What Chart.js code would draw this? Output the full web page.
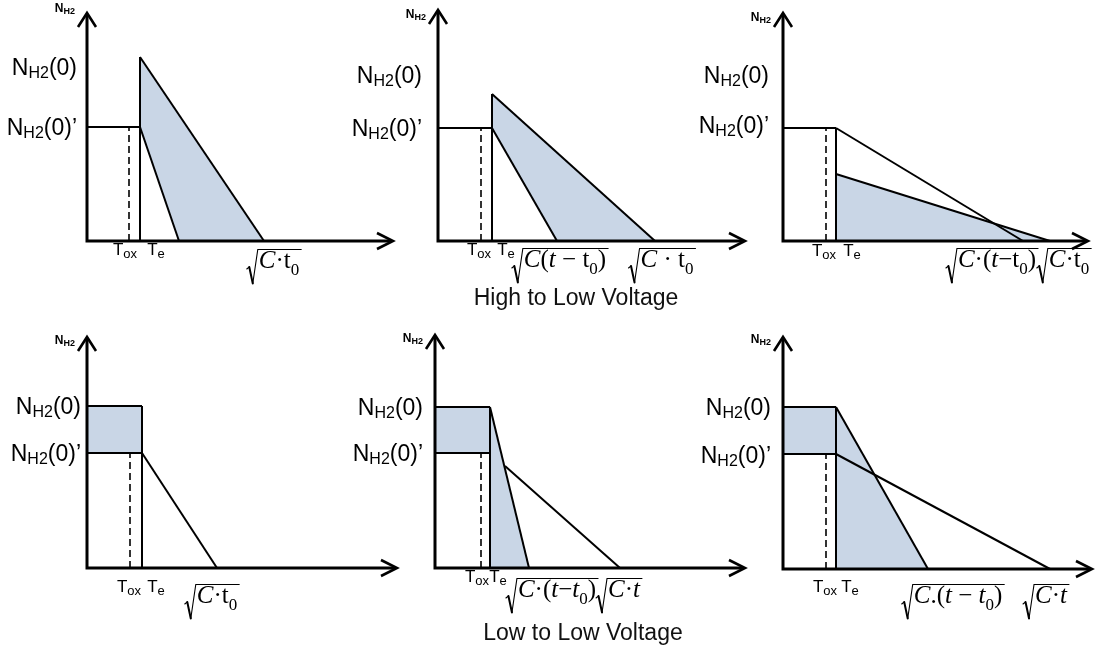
<!DOCTYPE html>
<html>
<head>
<meta charset="utf-8">
<title>N_H2 profiles</title>
<script src="https://cdn.jsdelivr.net/npm/chart.js@4.4.1/dist/chart.umd.min.js"></script>
<style>
  html, body { margin: 0; padding: 0; background: #fff; }
  body { width: 1096px; height: 649px; position: relative; overflow: hidden; font-family: "Liberation Sans", Arial, sans-serif; }
  .panel { position: absolute; }
  .caption { position: absolute; font-size: 23px; color: #111; white-space: nowrap; transform: translate(-50%, -50%); }
</style>
</head>
<body>
<div id="panels"></div>
<div class="caption" style="left:576px; top:297px;">High to Low Voltage</div>
<div class="caption" style="left:583px; top:632px;">Low to Low Voltage</div>

<script>
// ---- labels ----
const axisTitle = 'N_{H2}';
const yTickText = ['N_{H2}(0)', 'N_{H2}(0)’'];
const tox = 'T_{ox}';
const te = 'T_{e}';
// radicand tokens: [text, style]  i = italic, r = roman, s = subscript, si = italic subscript
const rootCt0 = [['C', 'i'], ['·', 'r'], ['t', 'r'], ['0', 's']];
const rootCt0Wide = [['C', 'i'], [' · ', 'r'], ['t', 'r'], ['0', 's']];
const rootCtt0 = [['C', 'i'], ['(', 'r'], ['t', 'i'], [' − ', 'r'], ['t', 'r'], ['0', 's'], [')', 'r']];
const rootCdotTt0 = [['C', 'i'], ['·(', 'r'], ['t', 'i'], ['−', 'r'], ['t', 'r'], ['0', 's'], [')', 'r']];
const rootCdotTt0i = [['C', 'i'], ['·(', 'r'], ['t', 'i'], ['−', 'r'], ['t', 'i'], ['0', 's'], [')', 'r']];
const rootCperTt0 = [['C', 'i'], ['.(', 'r'], ['t', 'i'], [' − ', 'r'], ['t', 'i'], ['0', 's'], [')', 'r']];
const rootCt = [['C', 'i'], ['·', 'r'], ['t', 'i']];

// ---- data: x = distance from the N axis, y = height above the depth axis ----
// panel 1 : high -> low, short time
const p1Shade = [[53, 184], [177, 0], [92, 0], [53, 114]];
const p1Lines = [[[0, 114], [53, 114]], [[53, 0], [53, 184]], [[53, 114], [92, 0]], [[53, 184], [177, 0]]];
const p1Dash = [[42, 0], [42, 114]];
const p1YTicks = [174, 114];
const p1XTicks = [38, 69, 187];

// panel 2
const p2Shade = [[54, 147], [217, 0], [119, 0], [54, 113]];
const p2Lines = [[[0, 113], [54, 113]], [[54, 0], [54, 147]], [[54, 113], [119, 0]], [[54, 147], [217, 0]]];
const p2Dash = [[43, 0], [43, 113]];
const p2YTicks = [166, 113];
const p2XTicks = [41, 68, 122, 224];

// panel 3
const p3Shade = [[53, 67], [267, 0], [53, 0]];
const p3Lines = [[[0, 113], [53, 113]], [[53, 0], [53, 113]], [[53, 113], [240, 0]], [[53, 67], [267, 0]]];
const p3Dash = [[43, 0], [43, 113]];
const p3YTicks = [166, 116];
const p3XTicks = [41, 69, 209, 281];

// panel 4 : low -> low
const p4Shade = [[0, 162], [55, 162], [55, 115], [0, 115]];
const p4Lines = [[[0, 162], [55, 162]], [[0, 115], [55, 115]], [[55, 0], [55, 162]], [[55, 115], [130, 0]]];
const p4Dash = [[43, 0], [43, 115]];
const p4YTicks = [162, 115];
const p4XTicks = [42, 69, 125];

// panel 5
const p5Shade = [[0, 161], [55, 161], [94, 0], [55, 0], [55, 115], [0, 115]];
const p5Lines = [[[0, 161], [55, 161]], [[0, 115], [55, 115]], [[55, 0], [55, 161]], [[55, 161], [94, 0]], [[70, 102], [185, 0]]];
const p5Dash = [[46, 0], [46, 115]];
const p5YTicks = [161, 115];
const p5XTicks = [42, 63, 117, 184];

// panel 6
const p6Shade = [[0, 162], [53, 162], [145, 0], [53, 0], [53, 115], [0, 115]];
const p6Lines = [[[0, 162], [53, 162]], [[0, 115], [53, 115]], [[53, 0], [53, 162]], [[53, 162], [145, 0]], [[53, 115], [267, 0]]];
const p6Dash = [[43, 0], [43, 115]];
const p6YTicks = [162, 114];
const p6XTicks = [42, 67, 170, 263];

// ---- layout (page pixels) ----
const W = 410, H = 300, PAD_L = 90, PAD_B = 60;
const panels = [
  { left: 87, bottom: 241, xLen: 306, yLen: 228, gap: 10, tDrop: 14, rDrop: 27, titleDy: -1,
    shade: p1Shade, lines: p1Lines, dash: p1Dash, yTicks: p1YTicks, xTicks: p1XTicks, xLabels: [tox, te, rootCt0] },
  { left: 438, bottom: 241, xLen: 307, yLen: 231, gap: 16, tDrop: 14, rDrop: 26, titleDy: 8,
    shade: p2Shade, lines: p2Lines, dash: p2Dash, yTicks: p2YTicks, xTicks: p2XTicks, xLabels: [tox, te, rootCtt0, rootCt0Wide] },
  { left: 783, bottom: 241, xLen: 305, yLen: 228, gap: 14, tDrop: 15, rDrop: 26, titleDy: 8,
    shade: p3Shade, lines: p3Lines, dash: p3Dash, yTicks: p3YTicks, xTicks: p3XTicks, xLabels: [tox, te, rootCdotTt0, rootCt0] },
  { left: 87, bottom: 568, xLen: 310, yLen: 231, gap: 6, tDrop: 24, rDrop: 35, titleDy: 7,
    shade: p4Shade, lines: p4Lines, dash: p4Dash, yTicks: p4YTicks, xTicks: p4XTicks, xLabels: [tox, te, rootCt0] },
  { left: 435, bottom: 568, xLen: 310, yLen: 233, gap: 12, tDrop: 14, rDrop: 29, titleDy: 7,
    shade: p5Shade, lines: p5Lines, dash: p5Dash, yTicks: p5YTicks, xTicks: p5XTicks, xLabels: [tox, te, rootCdotTt0i, rootCt] },
  { left: 783, bottom: 569, xLen: 309, yLen: 232, gap: 12, tDrop: 23, rDrop: 34, titleDy: 6,
    shade: p6Shade, lines: p6Lines, dash: p6Dash, yTicks: p6YTicks, xTicks: p6XTicks, xLabels: [tox, te, rootCperTt0, rootCt] },
];

const SANS = '"Liberation Sans", Arial, sans-serif';
const SERIF = '"Liberation Serif", "Times New Roman", serif';
const FILL = '#c9d6e6';
const INK = '#000';

function pts(arr) { return arr.map(p => ({ x: p[0], y: p[1] })); }

// 'N_{H2}(0)' -> runs with subscripts
function sansRuns(str, size, subSize, drop, weight) {
  const w = weight ? weight + ' ' : '';
  return str.split(/(_\{[^}]*\})/).filter(s => s).map(s => s.startsWith('_{')
    ? { text: s.slice(2, -1), font: w + subSize + 'px ' + SANS, dy: drop }
    : { text: s, font: w + size + 'px ' + SANS, dy: 0 });
}

function measure(ctx, runs) {
  let w = 0;
  runs.forEach(r => { ctx.font = r.font; r.w = ctx.measureText(r.text).width; w += r.w; });
  return w;
}

function drawRuns(ctx, runs, x, y, align) {
  const w = measure(ctx, runs);
  let cx = align === 'right' ? x - w : align === 'center' ? x - w / 2 : x;
  runs.forEach(r => { ctx.font = r.font; ctx.fillText(r.text, cx, y + r.dy); cx += r.w; });
}

function drawRoot(ctx, tokens, cx, base, f) {
  const runs = tokens.map(([t, s]) => ({
    text: t,
    font: (s.includes('i') ? 'italic ' : '') + (s[0] === 's' ? Math.round(f * 0.68) : f) + 'px ' + SERIF,
    dy: s[0] === 's' ? f * 0.26 : 0
  }));
  const w = measure(ctx, runs);
  const rw = 11, total = rw + w + 3;
  const x0 = cx - total / 2, top = base - 0.74 * f, bot = base + 0.62 * f;
  ctx.lineCap = 'round';
  ctx.lineWidth = 1.1;
  ctx.beginPath(); ctx.moveTo(x0, base + 1); ctx.lineTo(x0 + 2.5, base - 1); ctx.stroke();
  ctx.lineWidth = 2;
  ctx.beginPath(); ctx.moveTo(x0 + 2.5, base - 1); ctx.lineTo(x0 + 6, bot); ctx.stroke();
  ctx.lineWidth = 1.1;
  ctx.beginPath(); ctx.moveTo(x0 + 6, bot); ctx.lineTo(x0 + rw, top); ctx.lineTo(x0 + total, top); ctx.stroke();
  let x = x0 + rw + 1;
  runs.forEach(r => { ctx.font = r.font; ctx.fillText(r.text, x, base + r.dy); x += r.w; });
}

const diagram = {
  id: 'diagram',
  afterDatasetsDraw(chart, args, o) {
    const { ctx, chartArea: a, scales: { x, y } } = chart;
    ctx.save();
    ctx.strokeStyle = INK;
    ctx.fillStyle = INK;
    // axes
    ctx.lineWidth = 3;
    ctx.lineCap = 'butt';
    ctx.lineJoin = 'miter';
    ctx.beginPath();
    ctx.moveTo(a.left, a.top + 1);
    ctx.lineTo(a.left, a.bottom);
    ctx.lineTo(a.right - 1, a.bottom);
    ctx.stroke();
    ctx.lineWidth = 2.6;
    ctx.beginPath();
    ctx.moveTo(a.left - 9, a.top + 14); ctx.lineTo(a.left, a.top); ctx.lineTo(a.left + 9, a.top + 14);
    ctx.moveTo(a.right - 16, a.bottom - 8); ctx.lineTo(a.right, a.bottom); ctx.lineTo(a.right - 16, a.bottom + 8);
    ctx.stroke();

    ctx.textBaseline = 'alphabetic';
    // axis title
    drawRuns(ctx, sansRuns(axisTitle, 12, 9, 2, 'bold'), a.left - 12, a.top + o.titleDy, 'right');
    // y tick labels
    o.yTicks.forEach((v, i) => {
      drawRuns(ctx, sansRuns(yTickText[i], 23, 16, 3), a.left - o.gap, y.getPixelForValue(v) + 8, 'right');
    });
    // x tick labels
    o.xTicks.forEach((v, i) => {
      const lab = o.xLabels[i];
      const px = x.getPixelForValue(v);
      if (Array.isArray(lab)) drawRoot(ctx, lab, px, a.bottom + o.rDrop, 25);
      else drawRuns(ctx, sansRuns(lab, 17, 13, 3), px, a.bottom + o.tDrop, 'center');
    });
    ctx.restore();
  }
};

const host = document.getElementById('panels');
panels.forEach(p => {
  const box = document.createElement('div');
  box.className = 'panel';
  box.style.left = (p.left - PAD_L) + 'px';
  box.style.top = (p.bottom - (H - PAD_B)) + 'px';
  const cv = document.createElement('canvas');
  cv.width = W; cv.height = H;
  cv.style.width = W + 'px'; cv.style.height = H + 'px';
  box.appendChild(cv);
  host.appendChild(box);

  const datasets = [{
    data: pts(p.shade), showLine: true, fill: 'shape', backgroundColor: FILL,
    borderWidth: 0, pointRadius: 0, order: 3, clip: false
  }];
  p.lines.forEach(seg => datasets.push({
    data: pts(seg), showLine: true, fill: false, borderColor: INK, borderWidth: 2,
    pointRadius: 0, order: 1, clip: false
  }));
  datasets.push({
    data: pts(p.dash), showLine: true, fill: false, borderColor: INK, borderWidth: 1.6,
    borderDash: [7, 4], pointRadius: 0, order: 1, clip: false
  });

  new Chart(cv, {
    type: 'scatter',
    data: { datasets },
    options: {
      responsive: false,
      animation: false,
      devicePixelRatio: 1,
      layout: { padding: { left: PAD_L, bottom: PAD_B, top: H - PAD_B - p.yLen, right: W - PAD_L - p.xLen } },
      scales: {
        x: { type: 'linear', display: false, min: 0, max: p.xLen },
        y: { type: 'linear', display: false, min: 0, max: p.yLen }
      },
      plugins: {
        legend: { display: false },
        tooltip: { enabled: false },
        diagram: { yTicks: p.yTicks, xTicks: p.xTicks, xLabels: p.xLabels, gap: p.gap, tDrop: p.tDrop, rDrop: p.rDrop, titleDy: p.titleDy }
      }
    },
    plugins: [diagram]
  });
});
</script>
</body>
</html>
